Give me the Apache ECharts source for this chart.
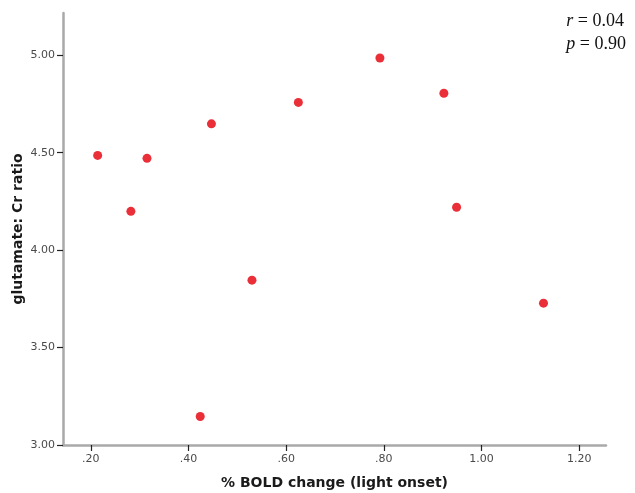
<!DOCTYPE html>
<html>
<head>
<meta charset="utf-8">
<script src="https://cdn.jsdelivr.net/npm/echarts@6/dist/echarts.min.js"></script>
<style>
  html, body { margin: 0; padding: 0; background: #fff; }
  #chart { width: 635px; height: 493px; }
</style>
</head>
<body>
<div id="chart"></div>
<script>
// % BOLD change at light onset for each subject
const boldChange = [0.214, 0.282, 0.315, 0.447, 0.625, 0.530, 0.424, 0.792, 0.923, 0.949, 1.127];
// glutamate : Cr ratio for the same subjects
const gluCrRatio = [4.486, 4.199, 4.471, 4.648, 4.758, 3.846, 3.146, 4.986, 4.805, 4.220, 3.728];

// tick positions for both axes
const xTicks = [0.2, 0.4, 0.6, 0.8, 1.0, 1.2];
const yTicks = [3.0, 3.5, 4.0, 4.5, 5.0];

const stats = { r: '0.04', p: '0.90' };

const points = boldChange.map((x, i) => [x, gluCrRatio[i]]);

const axisLineStyle = { color: '#a9a9a9', width: 2.5 };
const tickStyle = { color: '#222', width: 1.2 };
const labelStyle = { color: '#4a4a4a', fontSize: 11, fontFamily: 'DejaVu Sans' };
const nameStyle = { color: '#1a1a1a', fontSize: 14, fontWeight: 'bold', fontFamily: 'DejaVu Sans' };

const chart = echarts.init(document.getElementById('chart'), null, { renderer: 'canvas' });
chart.setOption({
  animation: false,
  backgroundColor: '#ffffff',
  grid: { left: 63, top: 13, right: 29, bottom: 48, containLabel: false, outerBoundsMode: 'none' },
  title: {
    right: 4,
    top: 5,
    text: '{i|r} = ' + stats.r + '\n{i|p} = ' + stats.p,
    textStyle: {
      fontFamily: 'Liberation Serif',
      fontSize: 18,
      fontWeight: 'normal',
      color: '#111',
      lineHeight: 23,
      align: 'right',
      rich: {
        i: { fontFamily: 'Liberation Serif', fontStyle: 'italic', fontSize: 18, color: '#111' }
      }
    }
  },
  xAxis: {
    type: 'value',
    min: 0.143,
    max: 1.255,
    name: '% BOLD change (light onset)',
    nameLocation: 'middle',
    nameGap: 31,
    nameMoveOverlap: false,
    nameTextStyle: nameStyle,
    axisLine: { show: true, onZero: false, lineStyle: axisLineStyle },
    axisTick: { show: true, length: 6, lineStyle: tickStyle, customValues: xTicks },
    axisLabel: {
      margin: 9,
      customValues: xTicks,
      formatter: v => v < 1 ? v.toFixed(2).replace(/^0/, '') : v.toFixed(2),
      ...labelStyle
    },
    splitLine: { show: false }
  },
  yAxis: {
    type: 'value',
    min: 3.0,
    max: 5.217,
    name: 'glutamate: Cr ratio',
    nameLocation: 'middle',
    nameGap: 38,
    nameMoveOverlap: false,
    nameTextStyle: nameStyle,
    axisLine: { show: true, onZero: false, lineStyle: axisLineStyle },
    axisTick: { show: true, length: 6, lineStyle: tickStyle, customValues: yTicks },
    axisLabel: {
      margin: 8,
      customValues: yTicks,
      formatter: v => v.toFixed(2),
      ...labelStyle
    },
    splitLine: { show: false }
  },
  series: [{
    type: 'scatter',
    data: points,
    symbol: 'circle',
    symbolSize: 9,
    itemStyle: { color: '#ea2f38', opacity: 1 }
  }]
});
</script>
</body>
</html>
